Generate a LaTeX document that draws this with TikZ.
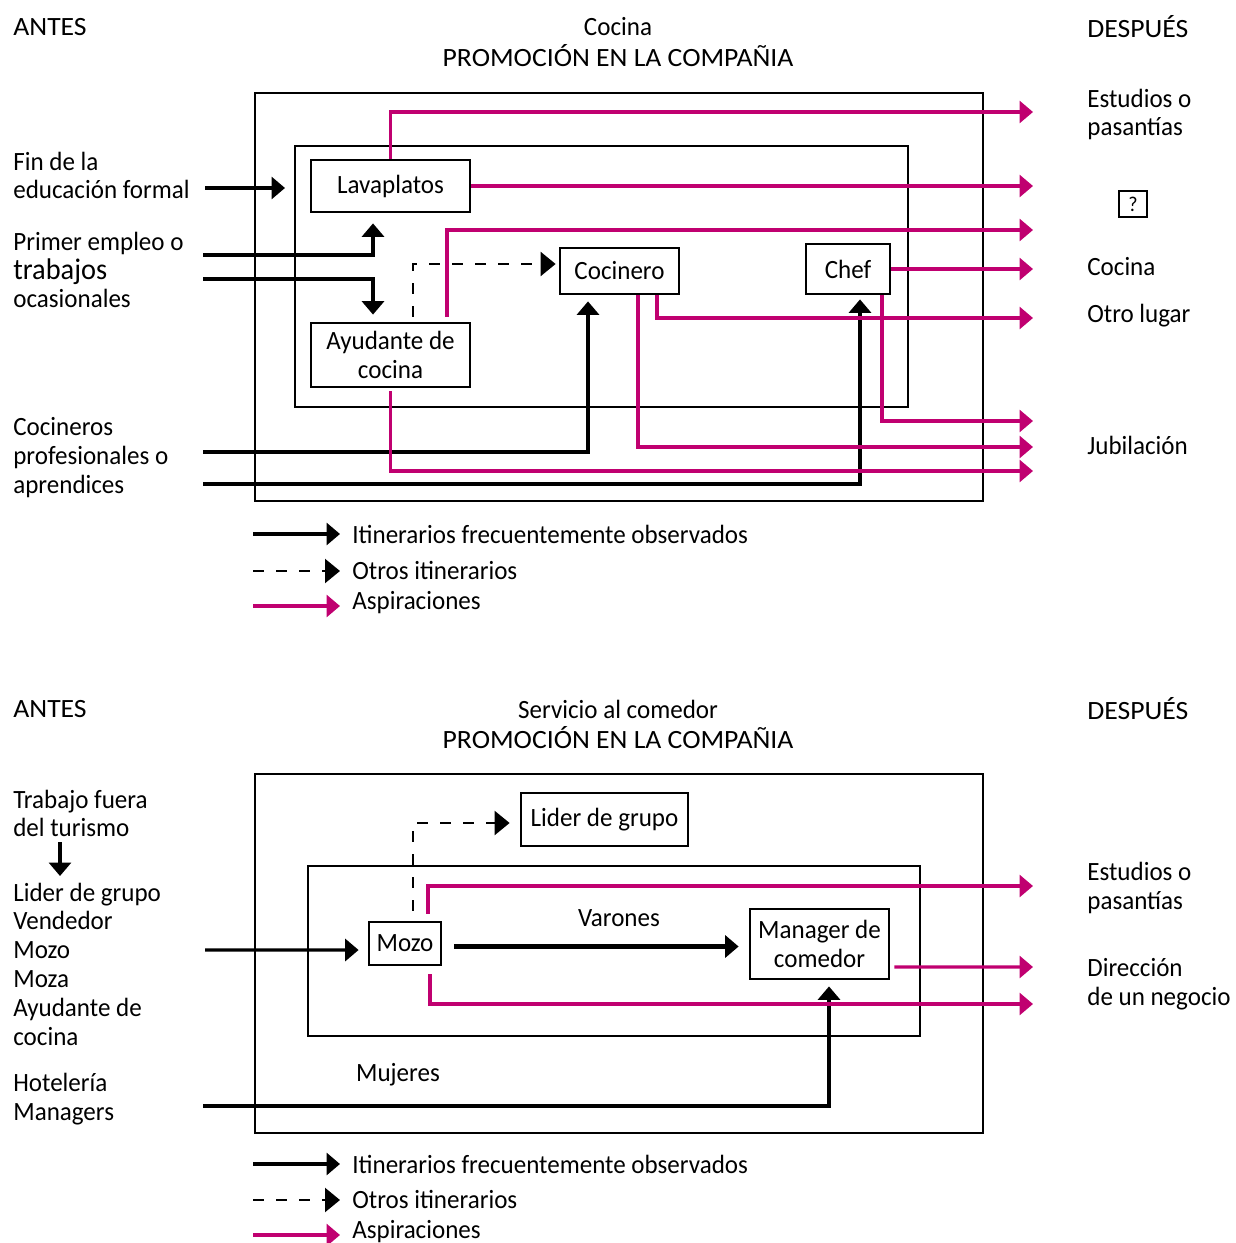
\documentclass[tikz,border=0pt]{standalone}
\usepackage{fontspec}
\setmainfont[FakeStretch=0.95]{Carlito}
\newfontfamily\capsfont[FakeStretch=1.05]{Carlito}
\usetikzlibrary{arrows.meta, positioning}
\definecolor{rubine}{RGB}{192,0,112}
\tikzset{%
	every text/.style={
		inner sep=0pt,
		font=\fontsize{15}{16.4}\selectfont
	},
	lbl/.style={every text, anchor=west, align=left},
	caps/.style={every text, font=\capsfont\fontsize{15}{16.4}\selectfont},
	stage/.style={draw, line width=1.6pt, inner sep=0pt, font=\fontsize{15}{16.4}\selectfont, align=center},
	frame/.style={draw, line width=1.3pt},
	usual/.style={line width=1.9pt, -{Triangle[length=0.27cm, width=0.44cm]}},
	other/.style={line width=1.3pt, dash pattern=on 0.22cm off 0.24cm, -{Triangle[length=0.3cm, width=0.48cm]}},
	aspire/.style={rubine, line width=1.8pt, -{Triangle[length=0.27cm, width=0.44cm]}},
}
\begin{document}
\begin{tikzpicture}[x=0.02cm, y=-0.02cm]
	\useasboundingbox (0,0) rectangle (1236,1243);

	% Cocina: headings
	\node[caps, anchor=west] (antes1) at (13,27) {ANTES};
	\node[every text] (tit1) at (618,27) {Cocina};
	\node[caps] (prom1) at (618,56) {PROMOCIÓN EN LA COMPAÑIA};
	\node[caps, anchor=west] (desp1) at (1087,27) {DESPUÉS};

	% Cocina: frames
	\draw[frame] (255,93) rectangle (983,501);
	\draw[frame, line width=1.6pt] (295,146) rectangle (908,407);

	% Cocina: positions
	\node[stage, minimum width=3.18cm, minimum height=1.04cm] (lava) at (390.5,186) {Lavaplatos};
	\node[stage, minimum width=3.18cm, minimum height=1.28cm] (ayud) at (390.5,355) {Ayudante de\\cocina};
	\node[stage, minimum width=2.38cm, minimum height=0.92cm] (cocinero) at (619.5,271) {Cocinero};
	\node[stage, minimum width=1.68cm, minimum height=1.00cm] (chef) at (848,269) {Chef};
	\node[stage, line width=1.2pt, minimum width=0.56cm, minimum height=0.52cm, font=\fontsize{12}{12}\selectfont] (q) at (1133,204) {?};

	% Cocina: origins
	\node[lbl] (fin) at (13,175.5) {Fin de la\\educación formal};
	\node[lbl] (primer) at (13,270) {Primer empleo o\\{\fontsize{17}{18}\selectfont trabajos}\\ocasionales};
	\node[lbl] (cocpro) at (13,457.5) {Cocineros\\profesionales o\\aprendices};
	\coordinate (fin out) at (205,188);
	\coordinate (fin in) at (285,188);
	\coordinate (pe a) at (203,255);
	\coordinate (pe b) at (203,279);
	\coordinate (cp a) at (203,452);
	\coordinate (cp b) at (203,484);

	% Cocina: destinations
	\node[lbl] (est1) at (1087,114.5) {Estudios o\\pasantías};
	\node[lbl] (coc) at (1087,267) {Cocina};
	\node[lbl] (otro) at (1087,316) {Otro lugar};
	\node[lbl] (jub) at (1087,445) {Jubilación};
	\coordinate (d1) at (1033,112);
	\coordinate (d2) at (1033,186);
	\coordinate (d3) at (1033,230);
	\coordinate (d4) at (1033,269);
	\coordinate (d5) at (1033,318);
	\coordinate (d6) at (1033,421);
	\coordinate (d7) at (1033,447);
	\coordinate (d8) at (1033,471);

	% Cocina: itineraries
	\draw[usual] (fin out) -- (fin in);
	\draw[usual, shorten >=0.2cm] (pe a) -| ([xshift=-0.35cm]lava.south);
	\draw[usual, shorten >=0.14cm] (pe b) -| ([xshift=-0.35cm]ayud.north);
	\draw[other, shorten <=0.1cm, shorten >=0.06cm] ([xshift=0.45cm]ayud.north) |- ([yshift=0.14cm]cocinero.west);
	\draw[usual, shorten >=0.12cm] (cp a) -| ([xshift=-0.63cm]cocinero.south);
	\draw[usual, shorten >=0.08cm] (cp b) -| ([xshift=0.24cm]chef.south);

	% Cocina: aspirations
	\draw[aspire] (lava.north) |- (d1);
	\draw[aspire] (lava.east) -- (d2);
	\draw[aspire, shorten <=0.1cm] ([xshift=1.13cm]ayud.north) |- (d3);
	\draw[aspire] (chef.east) -- (d4);
	\draw[aspire] ([xshift=0.75cm]cocinero.south) |- (d5);
	\draw[aspire] ([xshift=0.68cm]chef.south) |- (d6);
	\draw[aspire] ([xshift=0.37cm]cocinero.south) |- (d7);
	\draw[aspire, shorten <=0.06cm] (ayud.south) |- (d8);

	% Cocina: legend
	\node[lbl] (leg1) at (352,534) {Itinerarios frecuentemente observados};
	\node[lbl] (leg2) at (352,570) {Otros itinerarios};
	\node[lbl] (leg3) at (352,603) {Aspiraciones};
	\draw[usual] ([xshift=-1.98cm]leg1.west) -- ([xshift=-0.24cm]leg1.west);
	\draw[other] ([xshift=-1.98cm, yshift=-0.02cm]leg2.west) -- ([xshift=-0.24cm, yshift=-0.02cm]leg2.west);
	\draw[aspire] ([xshift=-1.98cm, yshift=-0.06cm]leg3.west) -- ([xshift=-0.24cm, yshift=-0.06cm]leg3.west);

	% Servicio al comedor: headings
	\node[caps, anchor=west] (antes2) at (13,709) {ANTES};
	\node[every text] (tit2) at (618,709) {Servicio al comedor};
	\node[caps] (prom2) at (618,738) {PROMOCIÓN EN LA COMPAÑIA};
	\node[caps, anchor=west] (desp2) at (1087,709) {DESPUÉS};

	% Servicio al comedor: frames
	\draw[frame] (255,774) rectangle (983,1133);
	\draw[frame, line width=1.6pt] (308,866) rectangle (920,1036);

	% Servicio al comedor: positions
	\node[stage, minimum width=3.34cm, minimum height=1.06cm] (lider) at (604.5,819.5) {Lider de grupo};
	\node[stage, minimum width=1.44cm, minimum height=0.86cm] (mozo) at (405,943.5) {Mozo};
	\node[stage, minimum width=2.78cm, minimum height=1.40cm] (manager) at (819.5,944) {Manager de\\comedor};
	\node[every text] (varones) at (619,918) {Varones};
	\node[every text] (mujeres) at (398,1075) {Mujeres};

	% Servicio al comedor: origins
	\node[lbl] (fuera) at (13,813.5) {Trabajo fuera\\del turismo};
	\node[lbl] (lista) at (13,964) {Lider de grupo\\Vendedor\\Mozo\\Moza\\Ayudante de\\cocina};
	\node[lbl] (hotel) at (13,1099.5) {Hotelería\\Managers};
	\coordinate (tf a) at (60,842);
	\coordinate (tf b) at (60,876);
	\coordinate (lm) at (205,950);
	\coordinate (hm) at (203,1106);

	% Servicio al comedor: destinations
	\node[lbl] (est2) at (1087,888) {Estudios o\\pasantías};
	\node[lbl] (dir) at (1087,984) {Dirección\\de un negocio};
	\coordinate (e1) at (1033,886);
	\coordinate (e2) at (1033,967);
	\coordinate (e3) at (1033,1004);

	% Servicio al comedor: itineraries
	\draw[usual] (tf a) -- (tf b);
	\draw[usual, shorten >=0.18cm] (lm) -- ([yshift=-0.13cm]mozo.west);
	\draw[other, shorten <=0.2cm, shorten >=0.2cm] ([xshift=0.16cm]mozo.north) |- ([yshift=-0.07cm]lider.west);
	\draw[usual, line width=2.3pt, shorten <=0.24cm, shorten >=0.2cm] ([yshift=-0.06cm]mozo.east) -- ([yshift=-0.06cm]mozo.east -| manager.west);
	\draw[usual, shorten >=0.12cm] (hm) -| ([xshift=0.19cm]manager.south);

	% Servicio al comedor: aspirations
	\draw[aspire, shorten <=0.14cm] ([xshift=0.46cm]mozo.north) |- (e1);
	\draw[aspire, shorten <=0.08cm] ([yshift=-0.46cm]manager.east) -- (e2);
	\draw[aspire, shorten <=0.16cm] ([xshift=0.5cm]mozo.south) |- (e3);

	% Servicio al comedor: legend
	\node[lbl] (leg4) at (352,1164) {Itinerarios frecuentemente observados};
	\node[lbl] (leg5) at (352,1199) {Otros itinerarios};
	\node[lbl] (leg6) at (352,1232) {Aspiraciones};
	\draw[usual] ([xshift=-1.98cm]leg4.west) -- ([xshift=-0.24cm]leg4.west);
	\draw[other] ([xshift=-1.98cm, yshift=-0.02cm]leg5.west) -- ([xshift=-0.24cm, yshift=-0.02cm]leg5.west);
	\draw[aspire] ([xshift=-1.98cm, yshift=-0.06cm]leg6.west) -- ([xshift=-0.24cm, yshift=-0.06cm]leg6.west);
\end{tikzpicture}
\end{document}
